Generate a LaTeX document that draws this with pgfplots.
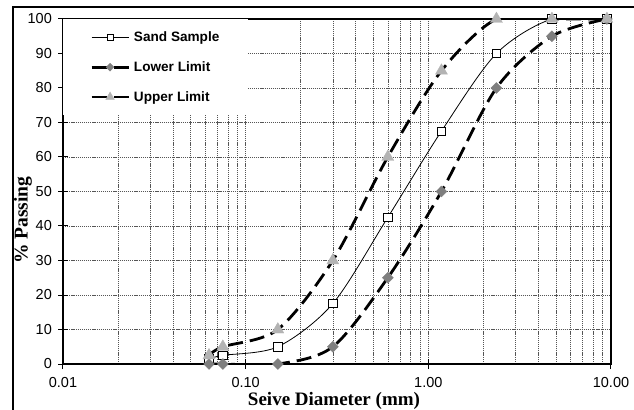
\documentclass[border=0pt]{standalone}
\usepackage{pgfplots}
\pgfplotsset{compat=1.18}
\usepackage{fontspec}
\setmainfont{Liberation Sans}
\newfontfamily\timesfont{Liberation Serif}
\definecolor{diam}{HTML}{7F7F7F}
\definecolor{tri}{HTML}{B3B3B3}
\definecolor{gridc}{HTML}{555555}

\begin{document}
\begin{tikzpicture}
  \begin{axis}[
      scale only axis,
      width=548bp, height=345bp,
      xmode=log,
      xmin=0.01, xmax=10, ymin=0, ymax=100,
      xtick={0.01,0.1,1,10},
      xticklabels={0.01,0.10,1.00,10.00},
      minor xtick={0.02,0.03,0.04,0.05,0.06,0.07,0.08,0.09,
                   0.2,0.3,0.4,0.5,0.6,0.7,0.8,0.9,
                   2,3,4,5,6,7,8,9},
      ytick={0,10,...,100},
      /pgf/number format/assume math mode=true,
      xmajorgrids=true, ymajorgrids=true, xminorgrids=true,
      major grid style={gridc, line width=0.6bp, dash pattern=on 1.2bp off 0.9bp},
      minor grid style={gridc, line width=0.6bp, dash pattern=on 1.2bp off 0.9bp},
      axis line style={black, line width=1.1bp},
      tick style={black, line width=1bp},
      major tick length=10bp, minor tick length=0pt,
      tick align=center,
      tick pos=left,
      ticklabel style={font=\fontsize{14.5bp}{17bp}\selectfont},
      xticklabel style={anchor=north, inner sep=0pt, yshift=-8bp},
      yticklabel style={anchor=east, inner sep=0pt, xshift=-6bp},
      clip mode=individual,
      legend image code/.code={
        \draw[mark repeat=2, mark phase=2, #1,
              every mark/.append style={scale=0.72}]
          plot coordinates {(0bp,0bp) (18.5bp,0bp) (37bp,0bp)};},
      legend style={at={(axis description cs:0,1)}, anchor=north west,
        draw=none, fill=white, inner xsep=27bp, inner ysep=10.5bp,
        row sep=14.5bp,
        /tikz/every odd column/.append style={column sep=2bp},
        font=\fontsize{13.6bp}{15.5bp}\selectfont\bfseries},
      legend cell align=left,
    ]
    \addplot[black, line width=0.8bp, smooth,
      mark=square*, mark size=4.2bp,
      mark options={solid, fill=white, draw=black, line width=0.8bp}]
      coordinates {
        (0.063,1.5) (0.075,2.5) (0.15,5) (0.3,17.5) (0.6,42.5)
        (1.18,67.5) (2.36,90) (4.75,100) (9.5,100)
      };
    \addlegendentry{Sand Sample}
    \addplot[black, line width=2.8bp, dash pattern=on 15bp off 7bp, smooth,
      mark=diamond*, mark size=5.5bp,
      mark options={solid, fill=diam, draw=diam, line width=0.3bp, xscale=1.33}]
      coordinates {
        (0.063,0) (0.075,0) (0.15,0) (0.3,5) (0.6,25)
        (1.18,50) (2.36,80) (4.75,95) (9.5,100)
      };
    \addlegendentry{Lower Limit}
    \addplot[black, line width=2.8bp, dash pattern=on 15bp off 7bp, smooth,
      mark=triangle*, mark size=7bp,
      mark options={solid, fill=tri, draw=tri, line width=0.3bp}]
      coordinates {
        (0.063,2.5) (0.075,5) (0.15,10) (0.3,30) (0.6,60)
        (1.18,85) (2.36,100) (4.75,100) (9.5,100)
      };
    \addlegendentry{Upper Limit}
    \node[rotate=90, font=\timesfont\bfseries\fontsize{19.5bp}{22bp}\selectfont]
      at (axis description cs:-0.073,0.417) {\% Passing};
    \node[anchor=base, font=\timesfont\bfseries\fontsize{19bp}{22bp}\selectfont]
      at (axis description cs:0.4945,0) [yshift=-41.5bp] {Seive Diameter (mm)};
  \end{axis}
  \draw[line width=2.2bp] (-50bp,-60bp) -- (-50bp,357bp) -- (620bp,357bp);
  \pgfresetboundingbox
  \path[use as bounding box] (-63bp,-46bp) rectangle (571bp,364bp);
\end{tikzpicture}
\end{document}
